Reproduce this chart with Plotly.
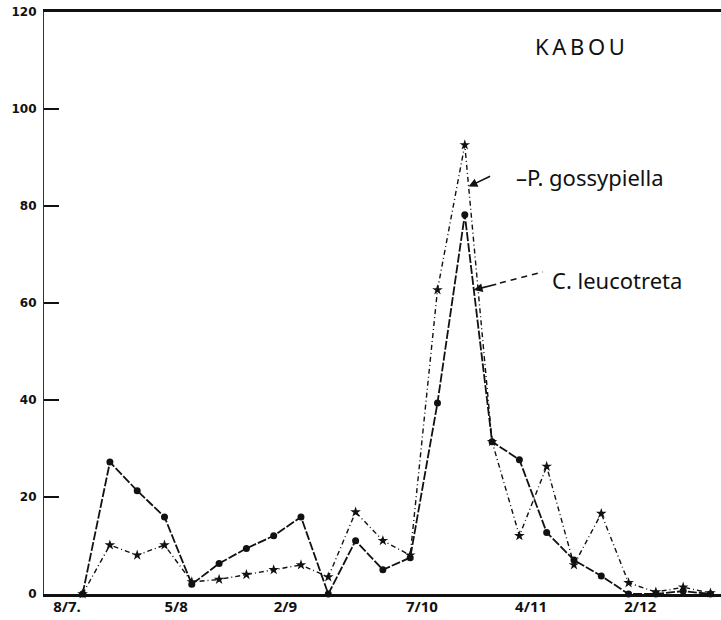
import pandas as pd
import plotly.graph_objects as go

# Weekly trap catches at Kabou
sample_dates = [
    "1986-07-12", "1986-07-19", "1986-07-26", "1986-08-02", "1986-08-09",
    "1986-08-16", "1986-08-23", "1986-08-30", "1986-09-06", "1986-09-13",
    "1986-09-20", "1986-09-27", "1986-10-04", "1986-10-11", "1986-10-18",
    "1986-10-25", "1986-11-01", "1986-11-08", "1986-11-15", "1986-11-22",
    "1986-11-29", "1986-12-06", "1986-12-13", "1986-12-20",
]
c_leucotreta = [
    0, 27.2, 21.3, 15.9, 2.0, 6.3, 9.4, 12.0, 15.9, 0.0,
    11.0, 5.0, 7.5, 39.4, 78.2, 31.4, 27.7, 12.7, 7.0, 3.7,
    0.0, 0.0, 0.6, 0.0,
]
p_gossypiella = [
    0, 10.1, 8.0, 10.1, 2.5, 3.0, 4.0, 5.0, 6.0, 3.5,
    16.9, 11.0, 8.0, 62.7, 92.6, 31.4, 12.0, 26.3, 6.0, 16.6,
    2.3, 0.4, 1.4, 0.2,
]

tick_dates = ["1986-07-08", "1986-08-05", "1986-09-02", "1986-10-07", "1986-11-04", "1986-12-02"]
tick_labels = ["8/7.", "5/8", "2/9", "7/10", "4/11", "2/12"]
y_ticks = [0, 20, 40, 60, 80, 100, 120]

origin = pd.Timestamp("1986-07-08")
x_range = [origin - pd.Timedelta(days=5.9), origin + pd.Timedelta(days=167.7)]

# plot area in pixels, used to place the handwritten labels
PL, PR, PT, PB = 44, 721, 12, 594


def px(x):
    return (x - PL) / (PR - PL)


def py(y):
    return (PB - y) / (PB - PT)


fig = go.Figure()

fig.add_trace(go.Scatter(
    x=sample_dates, y=p_gossypiella, name="P. gossypiella",
    mode="lines+markers",
    line=dict(color="#111111", width=1.4, dash="5px,3px,1px,3px"),
    marker=dict(symbol="star", size=8, color="#111111"),
    cliponaxis=False,
))
fig.add_trace(go.Scatter(
    x=sample_dates, y=c_leucotreta, name="C. leucotreta",
    mode="lines+markers",
    line=dict(color="#111111", width=1.8, dash="9px,2px"),
    marker=dict(symbol="circle", size=7, color="#111111"),
    cliponaxis=False,
))

hand = dict(family="Noto Sans", color="#111111")

# Site name
fig.add_annotation(
    x=px(580), y=py(46), xref="paper", yref="paper",
    xanchor="center", yanchor="middle",
    text="K\u2009A\u2009B\u2009O\u2009U", showarrow=False,
    font=dict(size=22, **hand),
)

# Series labels with leaders to their lines
fig.add_annotation(
    x="1986-10-18 23:30", y=84, text="", showarrow=True,
    ax=23, ay=-11, arrowhead=2, arrowsize=1.1, arrowwidth=1.6, arrowcolor="#111111",
)
fig.add_annotation(
    x=px(590), y=py(177), xref="paper", yref="paper",
    xanchor="center", yanchor="middle",
    text="\u2013P. gossypiella", showarrow=False, font=dict(size=22, **hand),
)
fig.add_annotation(
    x="1986-10-20 07:00", y=62.7, text="", showarrow=True,
    ax=24, ay=-6, arrowhead=2, arrowsize=1.1, arrowwidth=1.6, arrowcolor="#111111",
)
fig.add_shape(
    type="line", xref="paper", yref="paper",
    x0=px(500), y0=py(283), x1=px(543), y1=py(272),
    line=dict(color="#111111", width=1.6, dash="6px,5px"),
)
fig.add_annotation(
    x=px(617), y=py(280), xref="paper", yref="paper",
    xanchor="center", yanchor="middle",
    text="C. leucotreta", showarrow=False, font=dict(size=22, **hand),
)

fig.update_layout(
    width=721, height=620,
    margin=dict(l=PL, r=721 - PR, t=PT, b=620 - PB, pad=0),
    paper_bgcolor="white", plot_bgcolor="white",
    showlegend=False,
    xaxis=dict(
        type="date", range=x_range,
        tickmode="array", tickvals=tick_dates, ticktext=tick_labels,
        ticks="", showgrid=False, zeroline=False,
        showline=True, linewidth=3, linecolor="#111111", mirror=True,
        ticklabelstandoff=-3,
        tickfont=dict(family="Noto Sans", size=15, weight=700, color="#111111"),
    ),
    yaxis=dict(
        range=[0, 120], tickmode="array", tickvals=y_ticks,
        ticks="inside", ticklen=15, tickwidth=1.5, tickcolor="#111111",
        showgrid=False, zeroline=False,
        showline=True, linewidth=1.2, linecolor="#333333",
        ticklabelstandoff=4,
        tickfont=dict(family="DejaVu Sans", size=12, weight=900, color="#111111"),
    ),
)

fig.write_html("out.html")
